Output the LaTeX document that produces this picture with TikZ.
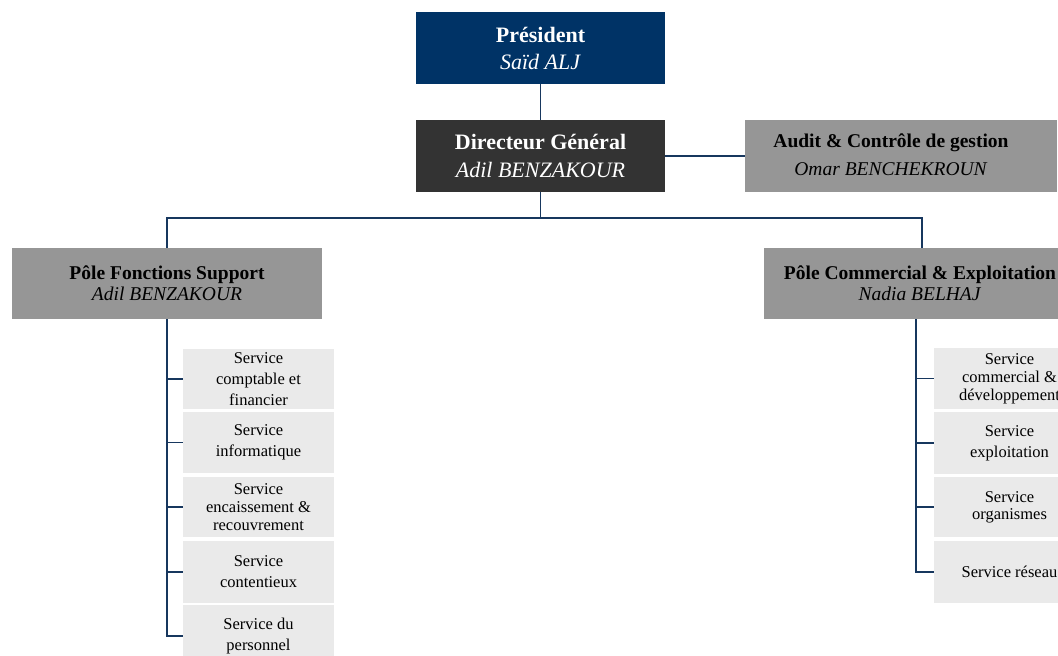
\documentclass[tikz,border=0pt]{standalone}
\usepackage{fontspec}
\setmainfont{Liberation Serif}
\definecolor{navy}{RGB}{0,51,102}
\definecolor{dgray}{RGB}{51,51,51}
\definecolor{mgray}{RGB}{150,150,150}
\definecolor{lgray}{RGB}{234,234,234}
\definecolor{lineblue}{RGB}{23,55,94}
\begin{document}
\begin{tikzpicture}[x=1pt,y=-1pt,
  plainbox/.style={rectangle,inner sep=0pt,anchor=center},
  box/.style={plainbox,align=center},
  topbox/.style={box,minimum width=249,minimum height=72,text=white,font=\fontsize{22}{27}\selectfont},
  polebox/.style={box,minimum width=310,minimum height=71,fill=mgray,font=\fontsize{19.5}{21}\selectfont},
  svc/.style={box,minimum width=151,minimum height=61,fill=lgray,font=\fontsize{16.5}{21}\selectfont},
  tight/.style={font=\fontsize{16.5}{18}\selectfont},
  conn/.style={draw=lineblue,line width=1.5pt}]
\useasboundingbox (0,0) rectangle (1058,656);
\clip (0,0) rectangle (1058,656);

% top level
\node[topbox,fill=navy] (pres) at (540.5,48) {\textbf{Président}\\\textit{Saïd ALJ}};
\node[topbox,fill=dgray,font=\fontsize{22}{28}\selectfont] (dg) at (540.5,156) {\textbf{Directeur Général}\\\textit{Adil BENZAKOUR}};
\node[plainbox,minimum width=312,minimum height=72,fill=mgray,font=\fontsize{19.5}{28}\selectfont] (audit) at (901,156)
  {\begin{tabular}{@{}c@{}}\textbf{Audit \& Contrôle de gestion}\\\textit{Omar BENCHEKROUN}\end{tabular}\rule{20pt}{0pt}};

% poles
\node[polebox] (pfs) at (167,283.5) {\textbf{Pôle Fonctions Support}\\\textit{Adil BENZAKOUR}};
\node[polebox,minimum width=312] (pce) at (920,283.5) {\textbf{Pôle Commercial \& Exploitation}\\\textit{Nadia BELHAJ}};

% services left
\node[svc,minimum height=60] (s1) at (258.5,379) {Service\\comptable et\\financier};
\node[svc] (s2) at (258.5,442.5) {Service\\informatique};
\node[svc,tight,minimum height=60] (s3) at (258.5,507) {Service\\encaissement \&\\recouvrement};
\node[svc,minimum height=62] (s4) at (258.5,572) {Service\\contentieux};
\node[svc,minimum height=62] (s5) at (258.5,636) {Service du\\personnel};

% services right
\node[svc,tight] (r1) at (1009.5,378.5) {Service\\commercial \&\\développement};
\node[svc,minimum height=62] (r2) at (1009.5,443) {Service\\exploitation};
\node[svc,minimum height=60,font=\fontsize{16.5}{17}\selectfont] (r3) at (1009.5,507) {Service\\organismes};
\node[svc,minimum height=62] (r4) at (1009.5,572) {Service réseau};

% connectors
\coordinate (bus) at (540.5,218);
\draw[conn] (pres.south) -- (dg.north);
\draw[conn] (dg.east) -- (audit.west);
\draw[conn] (dg.south) -- (bus);
\draw[conn] (bus) -| (pfs.north);
\draw[conn] (bus) -| ([xshift=2pt]pce.north);

\draw[conn] (pfs.south) |- (s5.west);
\foreach \s in {s1,s2,s3,s4} \draw[conn] (pfs.south |- \s.west) -- (\s.west);

\coordinate (rt) at ([xshift=-4pt]pce.south);
\draw[conn] (rt) |- (r4.west);
\foreach \s in {r1,r2,r3} \draw[conn] (rt |- \s.west) -- (\s.west);
\end{tikzpicture}
\end{document}
